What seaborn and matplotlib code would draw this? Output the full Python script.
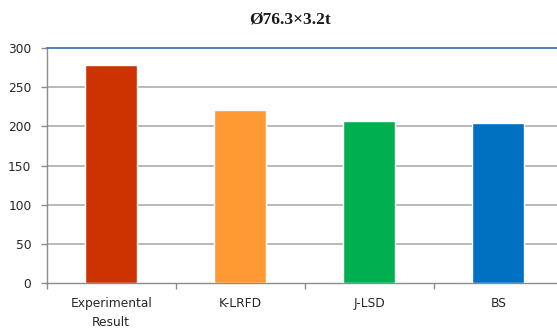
import matplotlib
matplotlib.use("Agg")
import matplotlib.pyplot as plt
import seaborn as sns
import pandas as pd

categories = ["Experimental\nResult", "K-LRFD", "J-LSD", "BS"]
values = [278, 221, 207, 204]
colors = ["#CC3300", "#FF9933", "#00B050", "#0070C0"]
yticks = [0, 50, 100, 150, 200, 250, 300]
title = "Ø76.3×3.2t"

sns.set_theme(style="white")
plt.rcParams["font.family"] = ["DejaVu Sans"]

df = pd.DataFrame({"cat": categories, "val": values})

fig = plt.figure(figsize=(5.57, 3.30), dpi=100)
ax = fig.add_axes([46.7 / 557, 1 - 283.3 / 330, 516 / 557, 235.6 / 330])

sns.barplot(data=df, x="cat", y="val", hue="cat", palette=colors,
            width=0.40, saturation=1, legend=False, ax=ax, zorder=3)

ax.set_xlim(-0.5, 3.5)
ax.set_ylim(0, 300)
ax.set_yticks(yticks)
ax.set_xlabel("")
ax.set_ylabel("")

# horizontal gridlines below the top boundary
for v in yticks[1:-1]:
    ax.axhline(v, color="#A6A6A6", lw=1.1, zorder=1)

ax.spines["right"].set_visible(False)
ax.spines["top"].set_color("#4F81BD")
ax.spines["top"].set_linewidth(1.4)
for side in ["left", "bottom"]:
    ax.spines[side].set_color("#8C8C8C")
    ax.spines[side].set_linewidth(1.0)

ax.tick_params(axis="y", which="major", direction="out", length=4, width=1,
               color="#8C8C8C", pad=7, labelsize=8.8, labelcolor="#262626", left=True)
ax.tick_params(axis="x", which="major", length=0, pad=10, labelsize=8.8,
               labelcolor="#262626")
ax.set_xticks([-0.5, 0.5, 1.5, 2.5, 3.5], minor=True)
ax.tick_params(axis="x", which="minor", direction="out", length=4, width=1,
               color="#8C8C8C", bottom=True)
for lbl in ax.get_xticklabels():
    lbl.set_linespacing(1.55)

fig.text(290 / 557, 1 - 19 / 330, title, ha="center", va="center",
         fontsize=12.5, fontweight="bold", family=["Liberation Serif", "DejaVu Serif"],
         color="#1a1a1a")

fig.savefig("out.png", dpi=100)
